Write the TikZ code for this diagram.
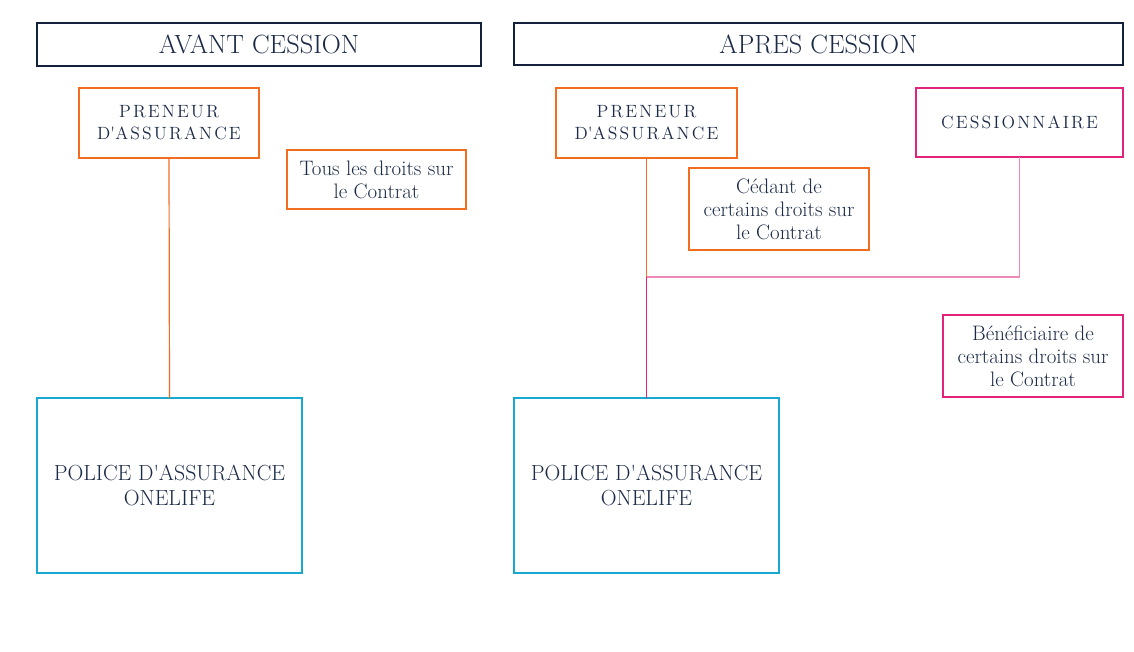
\documentclass[tikz,border=0pt]{standalone}
\usepackage{fontspec}
\setmainfont{Latin Modern Roman}
\newfontfamily\spacedfont{Latin Modern Roman}[LetterSpace=12]
\definecolor{navy}{HTML}{1B2A47}
\definecolor{hdrline}{HTML}{14213D}
\definecolor{orng}{HTML}{F36D21}
\definecolor{pnk}{HTML}{E2237A}
\definecolor{lpnk}{HTML}{EE8AB8}
\definecolor{cyn}{HTML}{17A9D1}
\newcommand\apos{\textquotesingle}
\begin{document}
\begin{tikzpicture}[x=0.75pt,y=-0.75pt,
  every node/.style={inner sep=0pt,outer sep=0pt,text=navy,align=center},
  boxbase/.style={draw,line width=1.5pt,fill=white},
  hdr/.style={boxbase,draw=hdrline,font=\fontsize{19.8}{24}\selectfont},
  rolebox/.style={boxbase,font=\spacedfont\fontsize{13.3}{16.5}\selectfont},
  notebox/.style={boxbase,font=\fontsize{15.7}{17.25}\selectfont},
  polbox/.style={boxbase,draw=cyn,font=\fontsize{16.4}{19}\selectfont},
  conn/.style={line width=0.9pt}]
\fill[white] (0,0) rectangle (1134,652);
\useasboundingbox (0,0) rectangle (1134,652);
% headers
\node[hdr,minimum width=444*0.75pt,minimum height=43*0.75pt] (h1) at (259,44.5) {AVANT CESSION};
\node[hdr,minimum width=609*0.75pt,minimum height=42*0.75pt] (h2) at (818.5,44) {APRES CESSION};
% left side
\node[rolebox,draw=orng,minimum width=180*0.75pt,minimum height=70*0.75pt] (lp) at (169,123) {PRENEUR\\D\apos ASSURANCE};
\node[notebox,draw=orng,minimum width=179*0.75pt,minimum height=59*0.75pt] (ld) at (376.5,179.5) {Tous les droits sur\\le Contrat};
\node[polbox,minimum width=265*0.75pt,minimum height=175*0.75pt] (lpol) at (169.5,485.5) {POLICE D\apos ASSURANCE\\ONELIFE};
% right side
\node[rolebox,draw=orng,minimum width=181*0.75pt,minimum height=70*0.75pt] (rp) at (646.5,123) {PRENEUR\\D\apos ASSURANCE};
\node[notebox,draw=orng,minimum width=180*0.75pt,minimum height=82*0.75pt] (rd) at (779,209) {Cédant de\\certains droits sur\\le Contrat};
\node[rolebox,draw=pnk,minimum width=207*0.75pt,minimum height=69*0.75pt] (ces) at (1019.5,122.5) {CESSIONNAIRE};
\node[notebox,draw=pnk,minimum width=180*0.75pt,minimum height=82*0.75pt] (ben) at (1033,356) {Bénéficiaire de\\certains droits sur\\le Contrat};
\node[polbox,minimum width=265*0.75pt,minimum height=175*0.75pt] (rpol) at (646.5,485.5) {POLICE D\apos ASSURANCE\\ONELIFE};
\coordinate (j) at (646.5,277);
% connectors
\draw[conn,orng] (lp.south) -- (lpol.north);
\draw[conn,orng] (rp.south) -- (j);
\draw[conn,pnk] (j) -- (rpol.north);
\draw[line width=1.4pt,lpnk] (j) -| (ces.south);
\end{tikzpicture}
\end{document}
